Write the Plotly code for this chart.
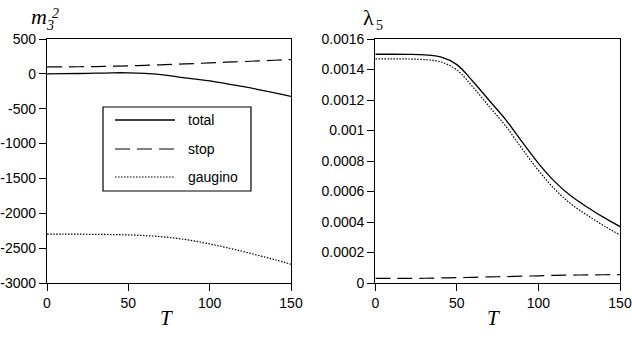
import plotly.graph_objects as go
from plotly.subplots import make_subplots

# temperature grid
T = [0, 10, 20, 30, 40, 50, 60, 70, 80, 90, 100, 110, 120, 130, 140, 150]

# m3^2 contributions
m3_total = [0, 2, 5, 10, 15, 15, 8, -10, -42, -72, -100, -140, -180, -225, -272, -322]
m3_stop = [100, 100, 102, 105, 110, 115, 122, 130, 138, 147, 157, 167, 176, 186, 195, 205]
m3_gaugino = [-2300, -2300, -2300, -2302, -2305, -2310, -2320, -2335, -2360, -2395,
              -2440, -2490, -2545, -2605, -2665, -2730]

# lambda5 contributions
lam_total = [0.00150, 0.00150, 0.001499, 0.001496, 0.001483, 0.001432, 0.00132, 0.001195,
             0.00107, 0.000925, 0.000785, 0.000665, 0.00057, 0.000497, 0.00043, 0.00037]
lam_stop = [0.000030, 0.000030, 0.000030, 0.000031, 0.000033, 0.000035, 0.000037, 0.000040,
            0.000042, 0.000045, 0.000047, 0.000050, 0.000052, 0.000053, 0.000054, 0.000055]
lam_gaugino = [0.00147, 0.00147, 0.001469, 0.001465, 0.00145, 0.001397, 0.001283, 0.001155,
               0.001028, 0.00088, 0.000738, 0.000615, 0.000518, 0.000444, 0.000376, 0.000315]

series_names = ["total", "stop", "gaugino"]

x_ticks = [0, 50, 100, 150]
m3_ticks = [500, 0, -500, -1000, -1500, -2000, -2500, -3000]
m3_ticktext = ["500", "0", "-500", "-1000", "-1500", "-2000", "-2500", "-3000"]
lam_ticks = [0.0016, 0.0014, 0.0012, 0.001, 0.0008, 0.0006, 0.0004, 0.0002, 0]
lam_ticktext = ["0.0016", "0.0014", "0.0012", "0.001", "0.0008", "0.0006", "0.0004", "0.0002", "0"]

W, H = 632, 340


def px(x):
    return x / W


def py(y):
    return 1 - y / H


fig = make_subplots(rows=1, cols=2)

styles = {
    "total": dict(color="black", width=1.3),
    "stop": dict(color="black", width=1.2, dash="15px,7px"),
    "gaugino": dict(color="black", width=1.2, dash="1.5px,1.5px"),
}

for name, ys in zip(series_names, [m3_total, m3_stop, m3_gaugino]):
    fig.add_trace(go.Scatter(x=T, y=ys, mode="lines", name=name, line=styles[name],
                             line_shape="spline", showlegend=False), row=1, col=1)
for name, ys in zip(series_names, [lam_total, lam_stop, lam_gaugino]):
    fig.add_trace(go.Scatter(x=T, y=ys, mode="lines", name=name, line=styles[name],
                             line_shape="spline", showlegend=False), row=1, col=2)

axis_common = dict(showline=True, linecolor="black", linewidth=1.3, mirror=True,
                   ticks="outside", ticklen=7, tickwidth=1, tickcolor="black",
                   showgrid=False, zeroline=False, automargin=False,
                   tickfont=dict(family="Liberation Sans, Arial", size=14, color="black"))

fig.update_xaxes(axis_common, range=[0, 150], tickvals=x_ticks)
fig.update_xaxes(domain=[px(47), px(291)], row=1, col=1)
fig.update_xaxes(domain=[px(375.3), px(620)], row=1, col=2)
fig.update_yaxes(axis_common, domain=[py(283), py(39)])
fig.update_yaxes(range=[-3000, 500], tickvals=m3_ticks, ticktext=m3_ticktext, row=1, col=1)
fig.update_yaxes(range=[0, 0.0016], tickvals=lam_ticks, ticktext=lam_ticktext, row=1, col=2)

# axis labels
serif = "Liberation Serif, Times New Roman"
labels = [
    (39, 16.5, "<i>m</i>", 22),
    (50, 25.5, "<i>3</i>", 14),
    (55.5, 13.5, "<i>2</i>", 14),
    (368.5, 17.5, "λ", 22),
    (379, 25.5, "5", 14),
    (166, 318, "<i>T</i>", 21),
    (493, 318, "<i>T</i>", 21),
]
for x, y, text, size in labels:
    fig.add_annotation(xref="paper", yref="paper", x=px(x), y=py(y), text=text,
                       showarrow=False, xanchor="center", yanchor="middle",
                       font=dict(family=serif, size=size, color="black"))

# legend box in the left panel
fig.add_shape(type="rect", xref="paper", yref="paper",
              x0=px(103), x1=px(251), y0=py(191), y1=py(107),
              line=dict(color="black", width=1.2), fillcolor="white", layer="above")
for name, ly in zip(series_names, [120, 149, 177]):
    fig.add_shape(type="line", xref="paper", yref="paper",
                  x0=px(115), x1=px(175), y0=py(ly), y1=py(ly),
                  line=styles[name], layer="above")
    fig.add_annotation(xref="paper", yref="paper", x=px(186), y=py(ly), text=name,
                       showarrow=False, xanchor="left", yanchor="middle",
                       font=dict(family="Liberation Sans, Arial", size=14, color="black"))

fig.update_layout(
    width=W, height=H,
    margin=dict(l=0, r=0, t=0, b=0, autoexpand=False),
    paper_bgcolor="white", plot_bgcolor="white",
    showlegend=False,
)

# drop the default page margin so the figure sits at the window's top-left corner
fig.write_html("out.html", config={"displayModeBar": False},
               post_script="document.body.style.margin = '0';")
